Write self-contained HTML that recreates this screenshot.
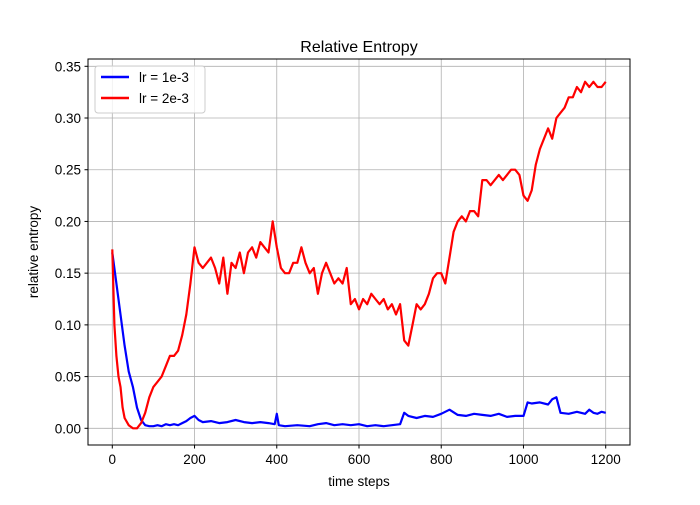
<!DOCTYPE html>
<html><head><meta charset="utf-8"><style>
body{margin:0;background:#fff;}
svg text{font-family:"Liberation Sans","DejaVu Sans",sans-serif;}
</style></head><body>
<svg id="chart" width="700" height="500" xmlns="http://www.w3.org/2000/svg">
<rect width="700" height="500" fill="#fff"/>
<g id="grid"></g>
<g id="lines"></g>
<rect x="88" y="59" width="542" height="386" fill="none" stroke="#000" stroke-width="1"/>
<g id="ticks"></g>
<text x="359" y="52" text-anchor="middle" font-size="16">Relative Entropy</text>
<text x="359" y="486" text-anchor="middle" font-size="13.5">time steps</text>
<text x="38" y="252" text-anchor="middle" font-size="13.5" transform="rotate(-90 38 252)">relative entropy</text>
<g>
<rect x="95" y="66" width="110" height="47" rx="3" fill="#fff" fill-opacity="0.8" stroke="#ccc"/>
<g>
<line x1="101" y1="77" x2="129" y2="77" stroke="#0000ff" stroke-width="2.5"/>
<text x="139" y="82" font-size="13.5">lr = 1e-3</text></g>
<g>
<line x1="101" y1="98" x2="129" y2="98" stroke="#ff0000" stroke-width="2.5"/>
<text x="139" y="103" font-size="13.5">lr = 2e-3</text></g>
</g>
</svg>
<script>
const xTicks=[0,200,400,600,800,1000,1200];
const yTicks=[0,0.05,0.10,0.15,0.20,0.25,0.30,0.35];
const yTickLabels=["0.00","0.05","0.10","0.15","0.20","0.25","0.30","0.35"];
const redSteps=[0,5,10,15,20,25,30,40,50,60,70,80,90,100,110,120,130,140,150,160,170,180,190,200,210,220,230,240,250,260,270,280,290,300,310,320,330,340,350,360,370,380,390,400,410,420,430,440,450,460,470,480,490,500,510,520,530,540,550,560,570,580,590,600,610,620,630,640,650,660,670,680,690,700,710,720,730,740,750,760,770,780,790,800,810,820,830,840,850,860,870,880,890,900,910,920,930,940,950,960,970,980,990,1000,1010,1020,1030,1040,1050,1060,1070,1080,1090,1100,1110,1120,1130,1140,1150,1160,1170,1180,1190,1200];
const redValues=[.173,.10,.07,.05,.04,.02,.01,.003,0,0,.005,.015,.03,.04,.045,.05,.06,.07,.07,.075,.09,.11,.14,.175,.16,.155,.16,.165,.155,.14,.165,.13,.16,.155,.17,.15,.17,.175,.165,.18,.175,.17,.20,.175,.155,.15,.15,.16,.16,.175,.16,.15,.155,.13,.15,.16,.15,.14,.145,.14,.155,.12,.125,.115,.125,.12,.13,.125,.12,.125,.115,.12,.11,.12,.085,.08,.10,.12,.115,.12,.13,.145,.15,.15,.14,.165,.19,.20,.205,.20,.21,.21,.205,.24,.24,.235,.24,.245,.24,.245,.25,.25,.245,.225,.22,.23,.255,.27,.28,.29,.28,.30,.305,.31,.32,.32,.33,.325,.335,.33,.335,.33,.33,.335];
const blueSteps=[0,10,20,30,40,50,60,70,80,90,100,110,120,130,140,150,160,170,180,190,200,210,220,240,260,280,300,320,340,360,380,395,400,405,420,450,480,500,520,540,560,580,600,620,640,660,680,700,710,720,740,760,780,800,820,840,860,880,900,920,940,960,980,1000,1010,1020,1040,1060,1070,1080,1090,1110,1130,1150,1160,1170,1180,1190,1200];
const blueValues=[.17,.14,.11,.08,.055,.04,.02,.008,.003,.002,.002,.003,.002,.004,.003,.004,.003,.005,.007,.01,.012,.008,.006,.007,.005,.006,.008,.006,.005,.006,.005,.004,.014,.003,.002,.003,.002,.004,.005,.003,.004,.003,.004,.002,.003,.002,.003,.004,.015,.012,.01,.012,.011,.014,.018,.013,.012,.014,.013,.012,.014,.011,.012,.012,.025,.024,.025,.023,.028,.03,.015,.014,.016,.014,.018,.015,.014,.016,.015];
const X=v=>112.3+v*(493.4/1200), Y=v=>428.3-v*(362/0.35);
const NS="http://www.w3.org/2000/svg";
const grid=document.getElementById('grid'),ticks=document.getElementById('ticks'),lines=document.getElementById('lines');
function mk(tag,attrs,parent){const e=document.createElementNS(NS,tag);for(const k in attrs)e.setAttribute(k,attrs[k]);parent.appendChild(e);return e;}
xTicks.forEach(t=>{
 const g=mk('line',{x1:X(t),x2:X(t),y1:59,y2:445,stroke:'#b0b0b0','stroke-width':0.8},grid);
 
 
 const tk=mk('line',{x1:X(t),x2:X(t),y1:445,y2:448.5,stroke:'#000'},ticks);
 
 
 const tx=mk('text',{x:X(t),y:464,'text-anchor':'middle','font-size':13.5},ticks);tx.textContent=t;
 
 
});
yTicks.forEach((t,i)=>{
 const g=mk('line',{x1:88,x2:630,y1:Y(t),y2:Y(t),stroke:'#b0b0b0','stroke-width':0.8},grid);
 
 
 const tk=mk('line',{x1:84.5,x2:88,y1:Y(t),y2:Y(t),stroke:'#000'},ticks);
 
 
 const tx=mk('text',{x:81,y:Y(t)+5,'text-anchor':'end','font-size':13.5},ticks);tx.textContent=yTickLabels[i];
 
 
});
function path(xs,ys,color,name){
 const d=xs.map((x,i)=>(i?'L':'M')+X(x).toFixed(1)+','+Y(ys[i]).toFixed(1)).join('');
 const p=mk('path',{d:d,fill:'none',stroke:color,'stroke-width':2.2,'stroke-linejoin':'round'},lines);
 
 
}
path(blueSteps,blueValues,'#0000ff','line-lr-1e-3');
path(redSteps,redValues,'#ff0000','line-lr-2e-3');
</script>
</body></html>
